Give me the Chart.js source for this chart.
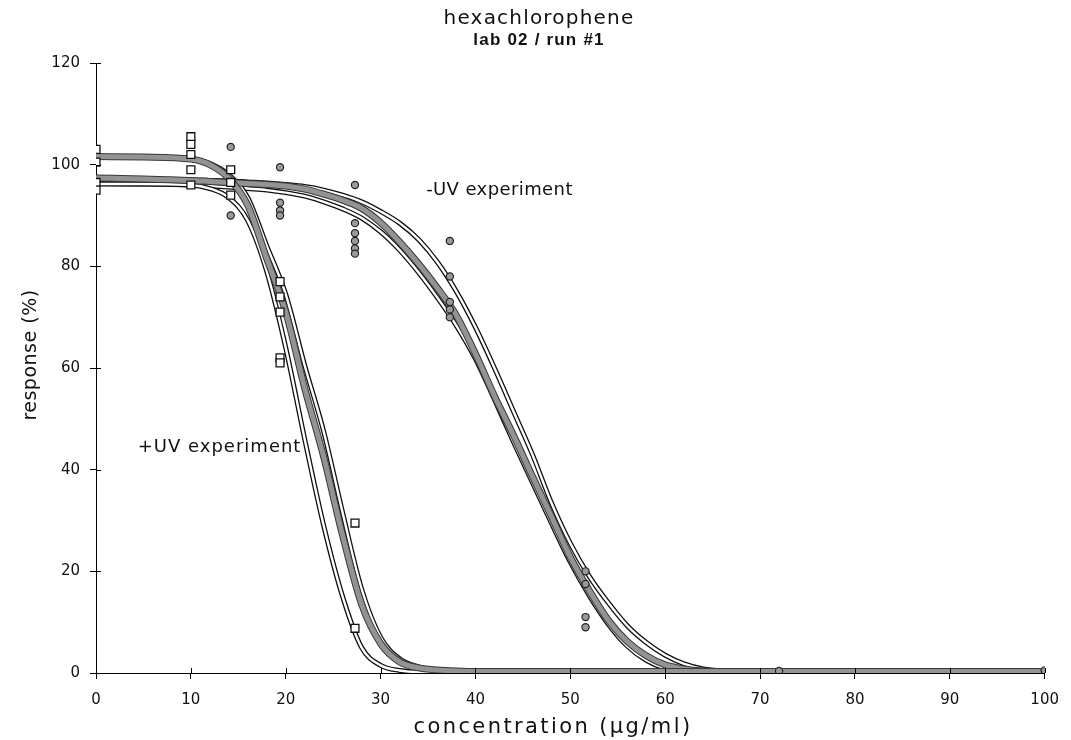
<!DOCTYPE html>
<html>
<head>
<meta charset="utf-8">
<title>hexachlorophene</title>
<script src="https://cdn.jsdelivr.net/npm/chart.js@4.4.1/dist/chart.umd.min.js"></script>
<style>
  html, body { margin: 0; padding: 0; background: #fff; }
  #wrap { width: 1071px; height: 740px; }
</style>
</head>
<body>
<div id="wrap"><canvas id="chart" width="1071" height="740"></canvas></div>
<script>
// concentration grid the fitted curves were read at (µg/ml)
const conc = [0, 5, 10, 12, 14, 16, 18, 20, 22, 24, 26, 28, 30, 32, 34, 36, 38, 40, 42, 44, 46, 48, 50, 52, 54, 56, 58, 60, 62, 64, 66, 70, 80, 90, 100];

// +UV fits (gray one is the main fit, the others are the outlined ones)
const plusUvFit     = [101.6, 101.5, 101.1, 100, 97.3, 92, 81.5, 71, 56, 42.5, 27, 13.5, 5.8, 2.2, 1.0, 0.6, 0.4, 0.3, 0.3, 0.3, 0.3, 0.3, 0.3, 0.3, 0.3, 0.3, 0.3, 0.3, 0.3, 0.3, 0.3, 0.3, 0.3, 0.3, 0.3];
const plusUvFitLow  = [96.2, 96.2, 96, 95.3, 93.5, 89, 79, 64, 46, 29, 15, 5, 1.5, 0.5, 0.2, 0.2, 0.2, 0.2, 0.2, 0.2, 0.2, 0.2, 0.2, 0.2, 0.2, 0.2, 0.2, 0.2, 0.2, 0.2, 0.2, 0.2, 0.2, 0.2, 0.2];
const plusUvFitHigh = [101.6, 101.5, 101.1, 100.2, 98, 93.5, 84, 74.5, 60.5, 47.5, 31.5, 16.5, 7, 2.8, 1.2, 0.6, 0.3, 0.2, 0.2, 0.2, 0.2, 0.2, 0.2, 0.2, 0.2, 0.2, 0.2, 0.2, 0.2, 0.2, 0.2, 0.2, 0.2, 0.2, 0.2];

// -UV fits
const minusUvFit     = [97.4, 97.2, 96.9, 96.7, 96.5, 96.3, 96.1, 95.8, 95.2, 94.2, 93, 91.4, 88.6, 84.8, 80.5, 75.7, 70.3, 62.8, 54.5, 46.8, 38.7, 30.8, 22.8, 16.2, 10.4, 6.2, 3.4, 1.6, 0.8, 0.4, 0.3, 0.3, 0.3, 0.3, 0.3];
const minusUvFitLow  = [96.3, 96.2, 96, 95.8, 95.6, 95.3, 95, 94.5, 93.8, 92.7, 91.3, 89.5, 86.8, 83.2, 78.8, 73.8, 68.3, 61.8, 53.8, 45.5, 37.5, 29.5, 21.8, 15.2, 9.6, 5.3, 2.5, 0.9, 0.4, 0.2, 0.2, 0.2, 0.2, 0.2, 0.2];
const minusUvFitHigh = [97.3, 97.2, 97, 96.9, 96.8, 96.6, 96.4, 96.1, 95.7, 95, 94, 92.7, 90.8, 88.5, 85.3, 80.8, 75, 68, 60, 51.5, 43, 33.5, 25.5, 19, 13.8, 9.3, 6, 3.5, 1.8, 0.8, 0.4, 0.2, 0.2, 0.2, 0.2];

// measured responses
const plusUvConc = [0, 0, 0, 0, 10, 10, 10, 10, 10, 14.2, 14.2, 14.2, 19.4, 19.4, 19.4, 19.4, 19.4, 27.3, 27.3];
const plusUvResp = [103, 100.5, 96.5, 95, 105.5, 104, 102, 99, 96, 99, 96.5, 94, 77, 74, 71, 62, 61, 29.5, 8.8];
const minusUvConc = [14.2, 14.2, 19.4, 19.4, 19.4, 19.4, 27.3, 27.3, 27.3, 27.3, 27.3, 27.3, 37.3, 37.3, 37.3, 37.3, 37.3, 51.6, 51.6, 51.6, 51.6, 72, 100];
const minusUvResp = [103.5, 90, 99.5, 92.5, 91, 90, 96, 88.5, 86.5, 85, 83.5, 82.5, 85, 78, 73, 71.5, 70, 20, 17.5, 11, 9, 0.4, 0.5];

const xTicks = [0, 10, 20, 30, 40, 50, 60, 70, 80, 90, 100];
const yTicks = [0, 20, 40, 60, 80, 100, 120];

const pts = (xs, ys) => xs.map((x, i) => ({ x: x, y: ys[i] }));

function curve(ys, color, width, order) {
  return {
    type: 'line',
    data: pts(conc, ys),
    borderColor: color,
    borderWidth: width,
    pointRadius: 0,
    fill: false,
    cubicInterpolationMode: 'monotone',
    order: order
  };
}

// outlined white fits (black edge + white core) and gray fits (dark edge + gray core)
const datasets = [
  curve(minusUvFitHigh, '#111', 5, 20), curve(minusUvFitHigh, '#fff', 2.4, 19),
  curve(minusUvFitLow, '#111', 5, 18), curve(minusUvFitLow, '#fff', 2.4, 17),
  curve(plusUvFitLow, '#111', 5, 16), curve(plusUvFitLow, '#fff', 2.4, 15),
  curve(plusUvFitHigh, '#111', 5, 14), curve(plusUvFitHigh, '#fff', 2.4, 13),
  curve(minusUvFit, '#3a3a3a', 7, 12), curve(minusUvFit, '#939393', 5, 11),
  curve(plusUvFit, '#3a3a3a', 7, 10), curve(plusUvFit, '#939393', 5, 9),
  {
    type: 'scatter',
    data: pts(minusUvConc, minusUvResp),
    pointStyle: 'circle',
    pointRadius: 3.6,
    backgroundColor: '#9a9a9a',
    borderColor: '#222',
    borderWidth: 1.2,
    order: 2
  },
  {
    type: 'scatter',
    data: pts(plusUvConc, plusUvResp),
    pointStyle: 'rect',
    pointRadius: 5.6,
    backgroundColor: '#fff',
    borderColor: '#111',
    borderWidth: 1.3,
    order: 1
  }
];

// ticks crossing the axes (inner half)
const innerTicks = {
  id: 'innerTicks',
  afterDatasetsDraw(chart) {
    const { ctx, chartArea, scales: { x, y } } = chart;
    ctx.save();
    ctx.strokeStyle = '#000';
    ctx.lineWidth = 1;
    ctx.beginPath();
    xTicks.forEach(v => {
      const px = Math.round(x.getPixelForValue(v)) + 0.5;
      ctx.moveTo(px, chartArea.bottom);
      ctx.lineTo(px, chartArea.bottom - 5);
    });
    yTicks.forEach(v => {
      const py = Math.round(y.getPixelForValue(v)) + 0.5;
      ctx.moveTo(chartArea.left, py);
      ctx.lineTo(chartArea.left + 5, py);
    });
    ctx.stroke();
    ctx.restore();
  }
};

// title, subtitle, axis titles and the two curve labels
const labels = {
  id: 'labels',
  afterDraw(chart) {
    const { ctx, scales: { x, y } } = chart;
    ctx.save();
    ctx.fillStyle = '#111';
    ctx.textAlign = 'center';
    ctx.textBaseline = 'alphabetic';
    ctx.font = '20px "DejaVu Sans"';
    ctx.letterSpacing = '1.2px';
    ctx.fillText('hexachlorophene', 539, 24);
    ctx.font = 'bold 17px "Liberation Sans"';
    ctx.fillText('lab 02 / run #1', 539, 45);

    ctx.font = '21px "DejaVu Sans"';
    ctx.letterSpacing = '2.4px';
    ctx.fillText('concentration (µg/ml)', 553, 733);

    ctx.save();
    ctx.translate(31, 355);
    ctx.rotate(-Math.PI / 2);
    ctx.textBaseline = 'middle';
    ctx.font = '19px "DejaVu Sans"';
    ctx.letterSpacing = '0.5px';
    ctx.fillText('response (%)', 0, 0);
    ctx.restore();

    ctx.textAlign = 'left';
    ctx.font = '18px "DejaVu Sans"';
    ctx.letterSpacing = '0.4px';
    ctx.fillText('-UV experiment', x.getPixelForValue(34.8), y.getPixelForValue(94));
    ctx.letterSpacing = '1px';
    ctx.fillText('+UV experiment', x.getPixelForValue(4.4), y.getPixelForValue(43.5));
    ctx.restore();
  }
};

new Chart(document.getElementById('chart'), {
  data: { datasets: datasets },
  options: {
    responsive: false,
    animation: false,
    layout: { padding: { top: 63, right: 18, left: 0, bottom: 0 } },
    plugins: {
      legend: { display: false },
      tooltip: { enabled: false },
      title: { display: false }
    },
    scales: {
      x: {
        type: 'linear',
        min: 0,
        max: 100,
        afterBuildTicks: s => { s.ticks = xTicks.map(v => ({ value: v })); },
        afterFit: s => { s.height = 67; },
        border: { color: '#000', width: 1 },
        grid: { drawOnChartArea: false, drawTicks: true, tickLength: 6, color: '#000' },
        ticks: { color: '#111', padding: 12, font: { family: 'DejaVu Sans', size: 15 } }
      },
      y: {
        type: 'linear',
        min: 0,
        max: 120,
        afterBuildTicks: s => { s.ticks = yTicks.map(v => ({ value: v })); },
        afterFit: s => { s.width = 96; },
        border: { color: '#000', width: 1 },
        grid: { drawOnChartArea: false, drawTicks: true, tickLength: 6, color: '#000' },
        ticks: { color: '#111', padding: 10, font: { family: 'DejaVu Sans', size: 15 } }
      }
    }
  },
  plugins: [innerTicks, labels]
});
</script>
</body>
</html>
